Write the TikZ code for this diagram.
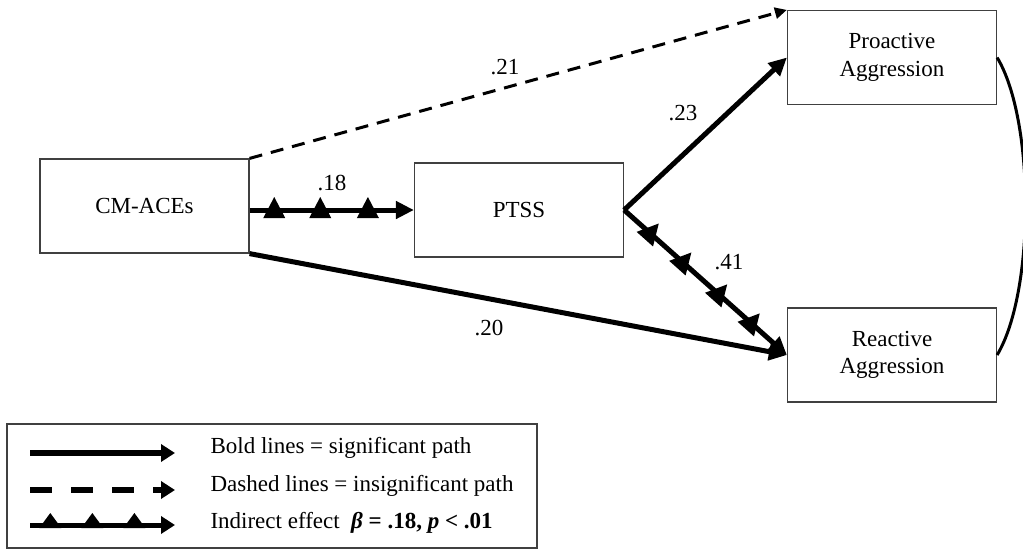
\documentclass[tikz,border=0pt]{standalone}
\usepackage{fontspec}
\setmainfont{Liberation Serif}
\usetikzlibrary{arrows.meta,decorations.markings}

\tikzset{
  var/.style={draw=black!75,line width=1.2pt,minimum width=209pt,minimum height=94pt,inner sep=0pt,align=center},
  sig/.style={line width=5pt,-{Triangle[length=18pt,width=17pt]}},
  nonsig/.style={line width=3pt,dash pattern=on 13pt off 9pt,-{Triangle[length=12pt,width=11pt]}},
  tri/.style={postaction={decorate,decoration={markings,mark=at position #1 with {\fill (-11pt,-8pt) -- (11pt,-8pt) -- (0pt,13pt) -- cycle;}}}},
  smalltri/.style={postaction={decorate,decoration={markings,mark=at position #1 with {\fill (-11pt,-3pt) -- (11pt,-3pt) -- (0pt,12pt) -- cycle;}}}},
  legline/.style={line width=6pt,-{Triangle[length=14pt,width=17pt]}}
}

\begin{document}
\begin{tikzpicture}[x=1pt,y=-1pt,font=\fontsize{23}{27.6}\selectfont]
  \useasboundingbox (0,0) rectangle (1023,550);
  \node[var] (cmaces) at (144.5,206) {CM-ACEs};
  \node[var] (ptss) at (519,210) {PTSS};
  \node[var] (proactive) at (892,57.5) {Proactive\\Aggression};
  \node[var] (reactive) at (892,355) {Reactive\\Aggression};
  \node (b21) at (505,67) {.21};
  \node (b23) at (683,113) {.23};
  \node (b18) at (332,183) {.18};
  \node (b41) at (729,262) {.41};
  \node (b20) at (489,328) {.20};
  \begin{scope}
    \draw[nonsig] (cmaces.north east) to (proactive.north west);
    \draw[sig] (ptss.east) to (proactive.west);
    \draw[sig] (cmaces.south east) to (reactive.west);
    \draw[sig,tri=0.15,tri=0.43,tri=0.72] (cmaces.east |- ptss.west) to (ptss.west);
    \draw[sig,tri=0.16,tri=0.36,tri=0.58,tri=0.78] (ptss.east) to (reactive.west);
    \draw[line width=3pt] (proactive.east) .. controls (1035,120) and (1035,292) .. (reactive.east);
  \end{scope}

  % legend
  \node[draw=black!75,line width=1.5pt,minimum width=530pt,minimum height=124pt,inner sep=0pt] (legend) at (272,486) {};
  \coordinate (sigA) at (30,453);
  \coordinate (sigB) at (175,453);
  \coordinate (nonA) at (30,490);
  \coordinate (nonB) at (175,490);
  \coordinate (indA) at (30,525);
  \coordinate (indB) at (175,525);
  \draw[legline] (sigA) -- (sigB);
  \draw[legline,dash pattern=on 22pt off 19pt] (nonA) -- (nonB);
  \draw[legline,line width=5pt,smalltri=0.14,smalltri=0.43,smalltri=0.72] (indA) -- (indB);
  \node[anchor=base west] (sigtext) at (207,453) {Bold lines = significant path};
  \node[anchor=base west] (nontext) at (207,491) {Dashed lines = insignificant path};
  \node[anchor=base west] (indtext) at (207,528) {Indirect effect~ \textbf{\textit{β}~= .18, \textit{p} < .01}};
\end{tikzpicture}
\end{document}
